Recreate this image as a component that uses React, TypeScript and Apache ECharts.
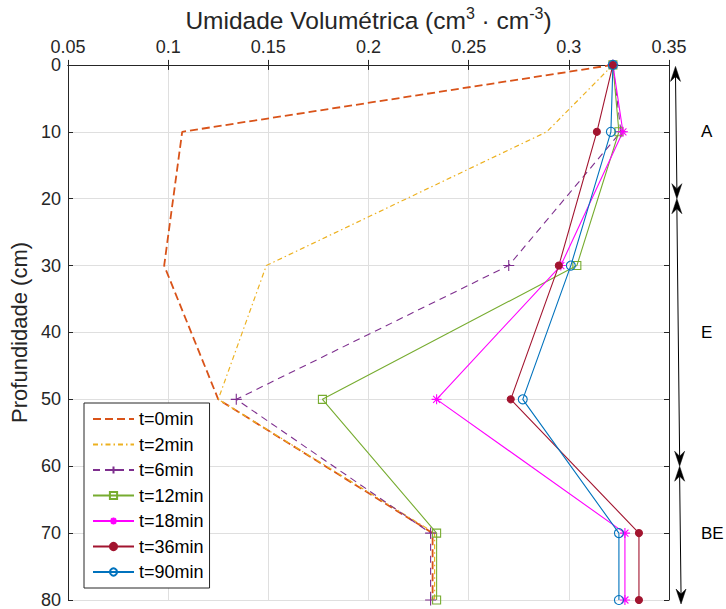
import React, { useEffect, useRef } from "react";
import * as echarts from "echarts";

// Soil depth (cm) at which moisture was sampled
const depths = [0, 10, 30, 50, 70, 80];

// Volumetric water content (cm3·cm-3) per sampling time, one value per depth
const seriesNames = ["t=0min", "t=2min", "t=6min", "t=12min", "t=18min", "t=36min", "t=90min"];
const t0min = [0.322, 0.107, 0.098, 0.125, 0.232, 0.232];
const t2min = [0.322, 0.289, 0.149, 0.125, 0.233, 0.233];
const t6min = [0.322, 0.326, 0.270, 0.134, 0.231, 0.231];
const t12min = [0.322, 0.325, 0.304, 0.177, 0.234, 0.234];
const t18min = [0.322, 0.327, 0.296, 0.234, 0.328, 0.328];
const t36min = [0.322, 0.314, 0.295, 0.271, 0.335, 0.335];
const t90min = [0.322, 0.321, 0.301, 0.277, 0.325, 0.325];
const seriesValues = [t0min, t2min, t6min, t12min, t18min, t36min, t90min];

// Axis ranges
const xMin = 0.05;
const xMax = 0.35;
const xStep = 0.05;
const depthMin = 0;
const depthMax = 80;
const depthStep = 10;

// Soil horizons marked beside the plot
const horizonLabels = ["A", "E", "BE"];
const horizonTop = [0, 20, 60];
const horizonBottom = [20, 60, 80];

const FONT = "Liberation Sans, Arial, Helvetica, sans-serif";
const INK = "#262626";
const GRID = "#dfdfdf";

const PLUS = "path://M0,5L10,5M5,0L5,10";
const ASTERISK = "path://M0,5L10,5M5,0L5,10M1.5,1.5L8.5,8.5M1.5,8.5L8.5,1.5";
const CLEAR = "rgba(0,0,0,0)";

type Look = {
  color: string;
  width: number;
  dash: any;
  symbol: string;
  size: number;
  fill: string;
};

const looks: Look[] = [
  { color: "#D95319", width: 1.8, dash: [8, 4], symbol: "none", size: 0, fill: "#D95319" },
  { color: "#EDB120", width: 1.2, dash: [5, 3, 1.5, 3], symbol: "none", size: 0, fill: "#EDB120" },
  { color: "#7E2F8E", width: 1.1, dash: [7, 5], symbol: PLUS, size: 11, fill: "#7E2F8E" },
  { color: "#77AC30", width: 1.1, dash: "solid", symbol: "rect", size: 8, fill: CLEAR },
  { color: "#FF00FF", width: 1.1, dash: "solid", symbol: ASTERISK, size: 10, fill: "#FF00FF" },
  { color: "#A2142F", width: 1.1, dash: "solid", symbol: "circle", size: 7, fill: "#A2142F" },
  { color: "#0072BD", width: 1.1, dash: "solid", symbol: "circle", size: 9, fill: CLEAR },
];

export default function App() {
  const ref = useRef<HTMLDivElement>(null);

  useEffect(() => {
    if (!ref.current) return;
    const chart = echarts.init(ref.current, undefined, { renderer: "svg" });

    const series = seriesNames.map((name, k) => {
      const lk = looks[k];
      return {
        name,
        type: "line",
        xAxisIndex: 0,
        yAxisIndex: 0,
        clip: false,
        symbol: lk.symbol,
        symbolSize: lk.size,
        lineStyle: { color: lk.color, width: lk.width, type: lk.dash },
        itemStyle: { color: lk.fill, borderColor: lk.color, borderWidth: 1.1 },
        emphasis: { disabled: true },
        data: depths.map((d, i) => [seriesValues[k][i], d]),
      };
    });

    // Line-only entries get an invisible marker in the legend
    const legendData = seriesNames.map((name, k) =>
      looks[k].symbol === "none"
        ? { name, itemStyle: { color: CLEAR, borderColor: CLEAR, borderWidth: 0 } }
        : { name }
    );

    const hiddenAxisBits = {
      axisLabel: { show: false },
      splitLine: { show: false },
      axisLine: { show: true, lineStyle: { color: INK, width: 1 } },
      axisTick: { show: true, inside: true, length: 5, lineStyle: { color: INK } },
    };

    chart.setOption({
      animation: false,
      backgroundColor: "#ffffff",
      textStyle: { fontFamily: FONT },
      grid: { left: 68, top: 64, right: 57, bottom: 8, containLabel: false },
      legend: {
        orient: "vertical",
        left: 84,
        top: 403,
        padding: [6, 6, 6, 8],
        itemWidth: 41,
        itemHeight: 9,
        itemGap: 5.5,
        backgroundColor: "#ffffff",
        borderColor: INK,
        borderWidth: 1,
        borderRadius: 0,
        textStyle: { fontSize: 18, lineHeight: 20, color: "#000000", fontFamily: FONT },
        data: legendData,
      },
      xAxis: [
        {
          type: "value",
          position: "top",
          min: xMin,
          max: xMax,
          interval: xStep,
          name: "{a|Umidade Volumétrica (cm}{s|3}{a| · cm}{s|-3}{a|)}",
          nameLocation: "middle",
          nameGap: 21,
          nameTextStyle: {
            rich: {
              a: { fontSize: 24.5, lineHeight: 31, color: INK, fontFamily: FONT },
              s: { fontSize: 16, lineHeight: 16, verticalAlign: "top", color: INK, fontFamily: FONT },
            },
          },
          axisLabel: {
            fontSize: 18,
            color: INK,
            margin: 9,
            showMinLabel: true,
            showMaxLabel: true,
            fontFamily: FONT,
          },
          axisLine: { show: true, lineStyle: { color: INK, width: 1 } },
          axisTick: { show: true, inside: true, length: 5, lineStyle: { color: INK } },
          splitLine: { show: true, lineStyle: { color: GRID, width: 1 } },
        },
        {
          type: "value",
          position: "bottom",
          min: xMin,
          max: xMax,
          interval: xStep,
          ...hiddenAxisBits,
        },
      ],
      yAxis: [
        {
          type: "value",
          position: "left",
          inverse: true,
          min: depthMin,
          max: depthMax,
          interval: depthStep,
          name: "Profundidade (cm)",
          nameLocation: "middle",
          nameRotate: 90,
          nameGap: 30,
          nameTextStyle: { fontSize: 22, color: INK, fontFamily: FONT },
          axisLabel: { fontSize: 18, color: INK, margin: 7, fontFamily: FONT },
          axisLine: { show: true, lineStyle: { color: INK, width: 1 } },
          axisTick: { show: true, inside: true, length: 5, lineStyle: { color: INK } },
          splitLine: { show: true, lineStyle: { color: GRID, width: 1 } },
        },
        {
          type: "value",
          position: "right",
          inverse: true,
          min: depthMin,
          max: depthMax,
          interval: depthStep,
          ...hiddenAxisBits,
        },
      ],
      series,
    });

    // Horizon arrows and labels, placed from the depth axis scale
    const yPx = (d: number) => chart.convertToPixel({ yAxisIndex: 0 }, d) as number;
    const yTop = yPx(depthMin);
    const yBottom = yPx(depthMax);
    const arrowXTop = 675.5;
    const arrowXBottom = 681;
    const xAt = (y: number) => arrowXTop + ((arrowXBottom - arrowXTop) * (y - yTop)) / (yBottom - yTop);
    const headLen = 15;
    const headHalf = 5;
    const notch = 10;

    const head = (y: number, dir: number) => {
      const x = xAt(y);
      return {
        type: "polygon",
        silent: true,
        shape: {
          points: [
            [x, y],
            [x - headHalf, y + dir * headLen],
            [x, y + dir * notch],
            [x + headHalf, y + dir * headLen],
          ],
        },
        style: { fill: "#000000", stroke: "#000000", lineWidth: 0.5 },
      };
    };

    const elements: any[] = [];
    horizonLabels.forEach((label, i) => {
      const y1 = yPx(horizonTop[i]) + (i === 0 ? 1.5 : 0);
      const y2 = yPx(horizonBottom[i]) + (i === horizonLabels.length - 1 ? 4 : 0);
      elements.push({
        type: "line",
        silent: true,
        shape: { x1: xAt(y1), y1: y1 + notch, x2: xAt(y2), y2: y2 - notch },
        style: { stroke: "#000000", lineWidth: 1 },
      });
      elements.push(head(y1, 1));
      elements.push(head(y2, -1));
      const yMid = yPx((horizonTop[i] + horizonBottom[i]) / 2);
      elements.push({
        type: "text",
        silent: true,
        x: 701,
        y: yMid,
        style: {
          text: label,
          fontSize: 17,
          fontFamily: FONT,
          fill: "#000000",
          align: "left",
          verticalAlign: "middle",
        },
      });
    });

    chart.setOption({ graphic: { elements } });

    return () => {
      chart.dispose();
    };
  }, []);

  return (
    <div
      ref={ref}
      style={{ position: "fixed", left: 0, top: 0, width: 726, height: 609 }}
    />
  );
}
